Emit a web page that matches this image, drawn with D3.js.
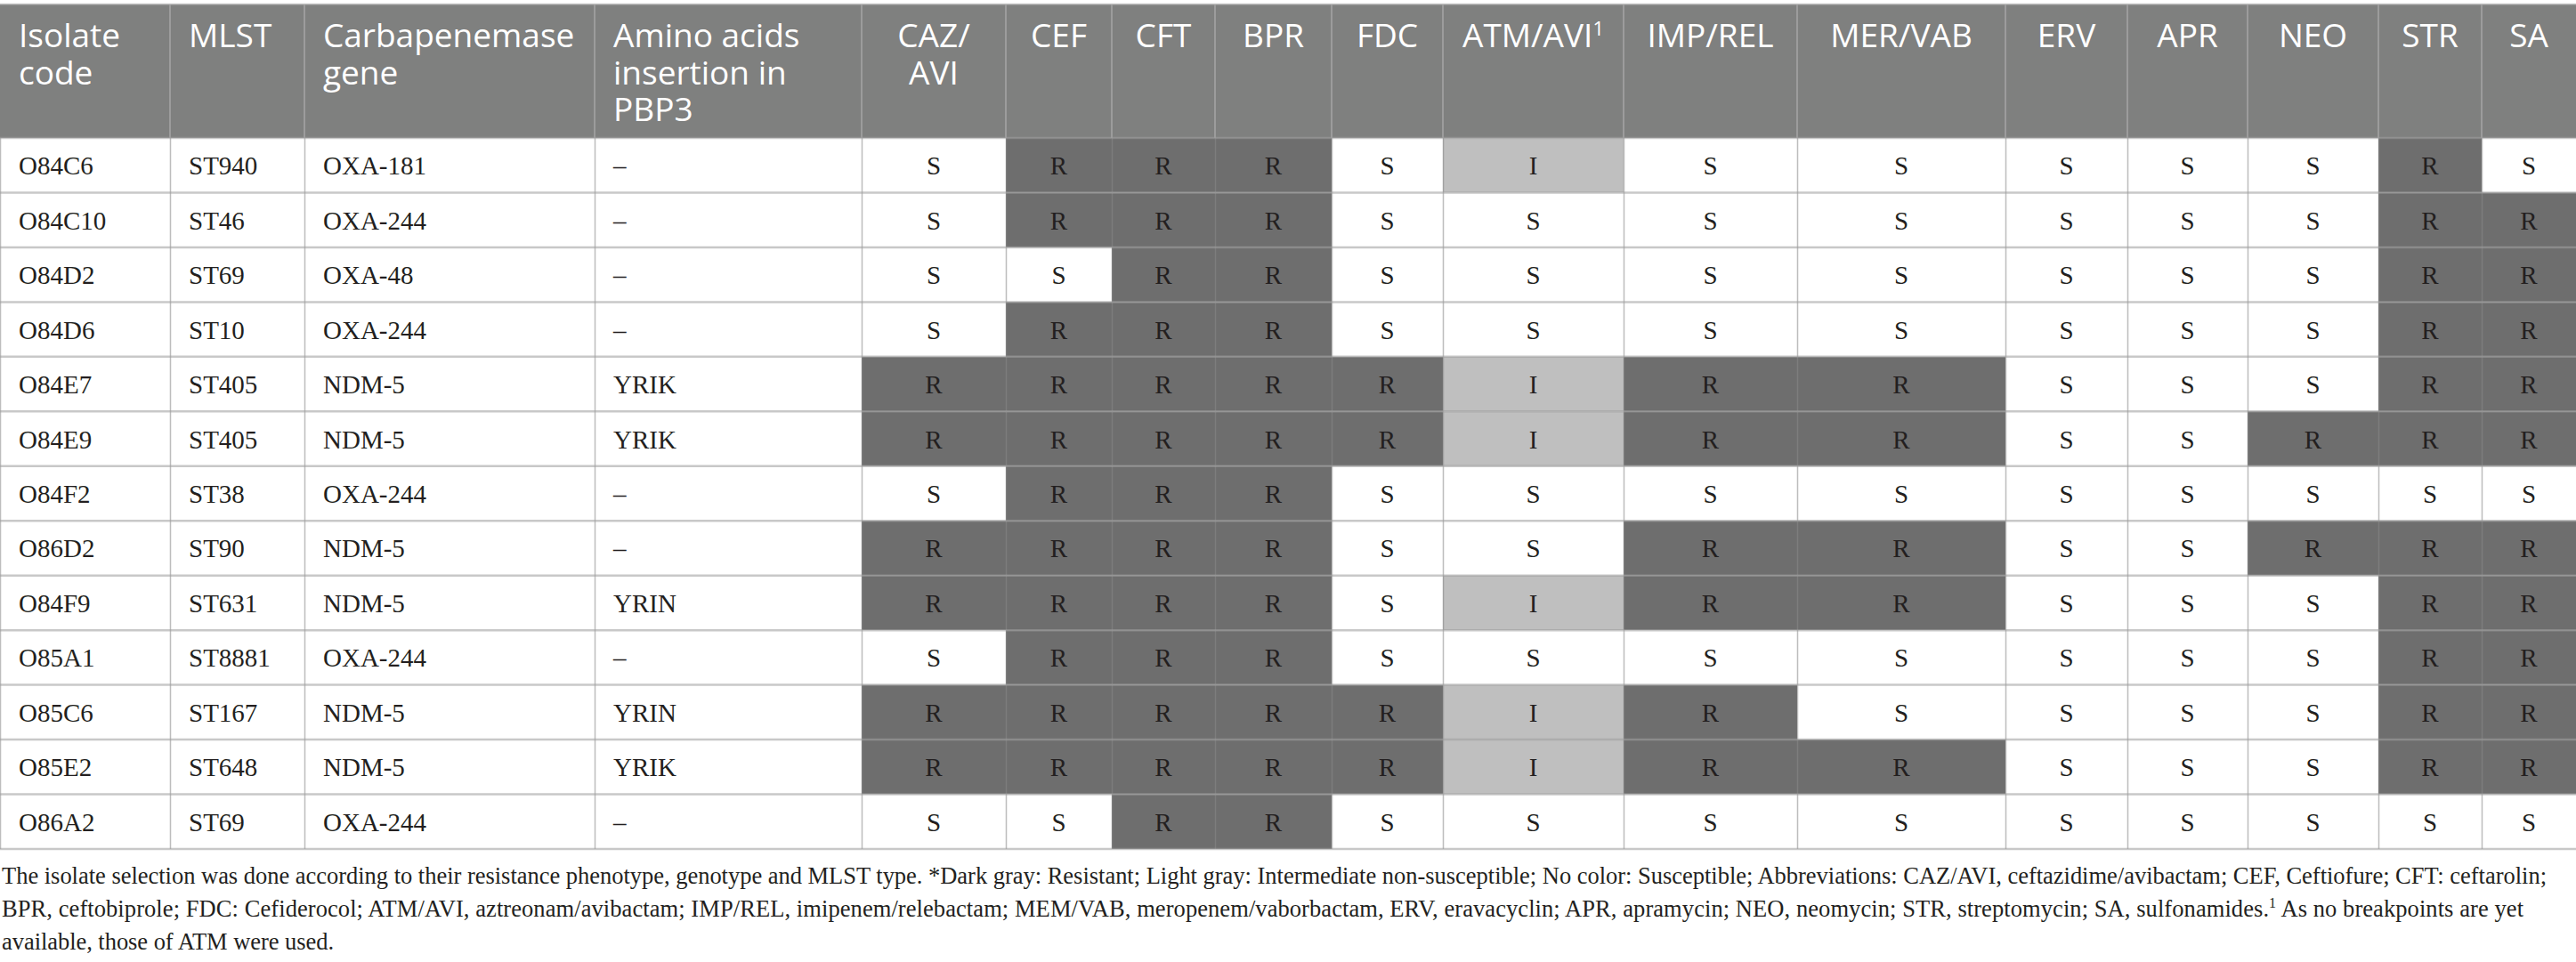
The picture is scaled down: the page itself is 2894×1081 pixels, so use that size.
<!DOCTYPE html>
<html>
<head>
<meta charset="utf-8">
<script src="https://cdn.jsdelivr.net/npm/d3@7"></script>
<style>
    body { margin: 0; background: #ffffff; }
</style>
</head>
<body>
<div id="canvas"></div>
<script>
"use strict"

/*Table data*/
let isolates = ["O84C6", "O84C10", "O84D2", "O84D6", "O84E7", "O84E9", "O84F2",
    "O86D2", "O84F9", "O85A1", "O85C6", "O85E2", "O86A2"]
let mlst = ["ST940", "ST46", "ST69", "ST10", "ST405", "ST405", "ST38",
    "ST90", "ST631", "ST8881", "ST167", "ST648", "ST69"]
let genes = ["OXA-181", "OXA-244", "OXA-48", "OXA-244", "NDM-5", "NDM-5", "OXA-244",
    "NDM-5", "NDM-5", "OXA-244", "NDM-5", "NDM-5", "OXA-244"]
let pbp3 = ["–", "–", "–", "–", "YRIK", "YRIK", "–", "–", "YRIN", "–", "YRIN", "YRIK", "–"]
let drugs = ["CAZ/AVI", "CEF", "CFT", "BPR", "FDC", "ATM/AVI", "IMP/REL", "MER/VAB",
    "ERV", "APR", "NEO", "STR", "SA"]
/*one string per isolate, one letter per drug (S, I, R)*/
let results = [
    "SRRRSISSSSSRS",
    "SRRRSSSSSSSRR",
    "SSRRSSSSSSSRR",
    "SRRRSSSSSSSRR",
    "RRRRRIRRSSSRR",
    "RRRRRIRRSSRRR",
    "SRRRSSSSSSSSS",
    "RRRRSSRRSSRRR",
    "RRRRSIRRSSSRR",
    "SRRRSSSSSSSRR",
    "RRRRRIRSSSSRR",
    "RRRRRIRRSSSRR",
    "SSRRSSSSSSSSS"
]
let headerLabels = [["Isolate", "code"], ["MLST"], ["Carbapenemase", "gene"],
    ["Amino acids", "insertion in", "PBP3"], ["CAZ/", "AVI"], ["CEF"], ["CFT"], ["BPR"],
    ["FDC"], ["ATM/AVI"], ["IMP/REL"], ["MER/VAB"], ["ERV"], ["APR"], ["NEO"], ["STR"], ["SA"]]
let footnotes = [
    "The isolate selection was done according to their resistance phenotype, genotype and MLST type. *Dark gray: Resistant; Light gray: Intermediate non-susceptible; No color: Susceptible; Abbreviations: CAZ/AVI, ceftazidime/avibactam; CEF, Ceftiofure; CFT: ceftarolin;",
    "BPR, ceftobiprole; FDC: Cefiderocol; ATM/AVI, aztreonam/avibactam; IMP/REL, imipenem/relebactam; MEM/VAB, meropenem/vaborbactam, ERV, eravacyclin; APR, apramycin; NEO, neomycin; STR, streptomycin; SA, sulfonamides.",
    "available, those of ATM were used."
]

/*Layout*/
let svgWidth = 2894
let svgHeight = 1081
let colWidths = [191, 151, 326, 300, 162, 119, 116, 131, 125, 203, 195, 234, 137, 135, 147, 116, 106]
let headerTop = 5
let headerBottom = 155
let tableBottom = 954
let padLeft = 21
let serif = "'Liberation Serif', 'Times New Roman', serif"
let sans = "'Open Sans', 'Noto Sans', sans-serif"
let fillColor = { S: "#ffffff", I: "#bfbfbf", R: "#6e6e6e" }

let svg = d3.select("#canvas")
    .append("svg")
    .attr("width", svgWidth)
    .attr("height", svgHeight)

/*column keys: 4 text columns + drugs*/
let columns = ["isolate", "mlst", "gene", "pbp3"].concat(drugs)
let colStarts = [0].concat(Array.from(d3.cumsum(colWidths)))
let xScale = d3.scaleOrdinal().domain(columns).range(colStarts.slice(0, columns.length))
let wScale = d3.scaleOrdinal().domain(columns).range(colWidths)

let yScale = d3.scaleBand()
    .domain(isolates)
    .range([headerBottom, tableBottom])

/*Header background*/
svg.append("rect")
    .attr("x", 0)
    .attr("y", headerTop)
    .attr("width", svgWidth)
    .attr("height", headerBottom - headerTop)
    .attr("fill", "#7f807f")

/*Body cells*/
let rowData = isolates.map(function (code, i) {
    return { code: code, values: [code, mlst[i], genes[i], pbp3[i]].concat(results[i].split("")) }
})

let rows = svg.selectAll("g.row")
    .data(rowData)
    .join("g")
    .classed("row", true)
    .attr("transform", d => `translate(0,${yScale(d.code)})`)

let cells = rows.selectAll("g.cell")
    .data(d => d.values.map((v, j) => ({ key: columns[j], value: v, idx: j })))
    .join("g")
    .classed("cell", true)

cells.append("rect")
    .attr("x", d => xScale(d.key))
    .attr("y", 0)
    .attr("width", d => wScale(d.key))
    .attr("height", yScale.bandwidth())
    .attr("fill", d => d.idx < 4 ? "#ffffff" : fillColor[d.value])

cells.append("text")
    .attr("x", d => d.idx < 4 ? xScale(d.key) + padLeft : xScale(d.key) + wScale(d.key) / 2)
    .attr("y", yScale.bandwidth() / 2 + 10.5)
    .attr("text-anchor", d => d.idx < 4 ? "start" : "middle")
    .style("font-family", serif)
    .style("font-size", "29px")
    .style("fill", "#231f20")
    .text(d => d.value)

/*Header vertical separators*/
svg.selectAll("line.headSep")
    .data(columns.slice(1))
    .join("line")
    .classed("headSep", true)
    .attr("x1", d => xScale(d))
    .attr("x2", d => xScale(d))
    .attr("y1", headerTop)
    .attr("y2", headerBottom)
    .attr("stroke", "#a6a6a6")
    .attr("stroke-width", 1.5)

/*Body vertical grid lines*/
svg.selectAll("line.bodySep")
    .data(columns)
    .join("line")
    .classed("bodySep", true)
    .attr("x1", d => xScale(d) + 0.5)
    .attr("x2", d => xScale(d) + 0.5)
    .attr("y1", headerBottom)
    .attr("y2", tableBottom)
    .attr("stroke", "rgba(137,137,137,0.56)")
    .attr("stroke-width", 1.5)

/*Horizontal lines: top border, header bottom, row separators, bottom*/
let hLines = [headerTop].concat(isolates.map(d => yScale(d)), [tableBottom])
svg.selectAll("line.rowSep")
    .data(hLines)
    .join("line")
    .classed("rowSep", true)
    .attr("x1", 0)
    .attr("x2", svgWidth)
    .attr("y1", d => d)
    .attr("y2", d => d)
    .attr("stroke", "rgba(158,158,158,0.57)")
    .attr("stroke-width", 2.5)

/*Header labels*/
let headText = svg.selectAll("text.head")
    .data(headerLabels)
    .join("text")
    .classed("head", true)
    .attr("x", (d, j) => j < 4 ? xScale(columns[j]) + padLeft : xScale(columns[j]) + wScale(columns[j]) / 2)
    .attr("y", 53)
    .attr("text-anchor", (d, j) => j < 4 ? "start" : "middle")
    .style("font-family", sans)
    .style("font-size", "37px")
    .style("fill", "#ffffff")

headText.selectAll("tspan.line")
    .data(function (d, j) { return d.map(t => ({ t: t, j: j })) })
    .join("tspan")
    .classed("line", true)
    .attr("x", function () { return d3.select(this.parentNode).attr("x") })
    .attr("dy", (d, i) => i === 0 ? 0 : 41.5)
    .text(d => d.t)

/*superscript 1 on ATM/AVI*/
headText.filter(d => d[0] === "ATM/AVI")
    .append("tspan")
    .attr("dy", -13)
    .style("font-size", "22px")
    .text("1")

/*Footnote*/
let footBase = [993, 1030, 1067]
let footLengths = [2859, 2833, 373]
let foot = svg.selectAll("text.foot")
    .data(footnotes)
    .join("text")
    .classed("foot", true)
    .attr("x", 2)
    .attr("y", (d, i) => footBase[i])
    .style("font-family", serif)
    .style("font-size", "26.5px")
    .style("fill", "#231f20")
    .text(d => d)

foot.filter((d, i) => i === 1).each(function () {
    let t = d3.select(this)
    t.append("tspan").attr("dy", -10).style("font-size", "16px").text("1")
    t.append("tspan").attr("dy", 10).text(" As no breakpoints are yet")
})

foot.each(function (d, i) {
    d3.select(this)
        .attr("textLength", footLengths[i])
        .attr("lengthAdjust", "spacing")
})
</script>
</body>
</html>
